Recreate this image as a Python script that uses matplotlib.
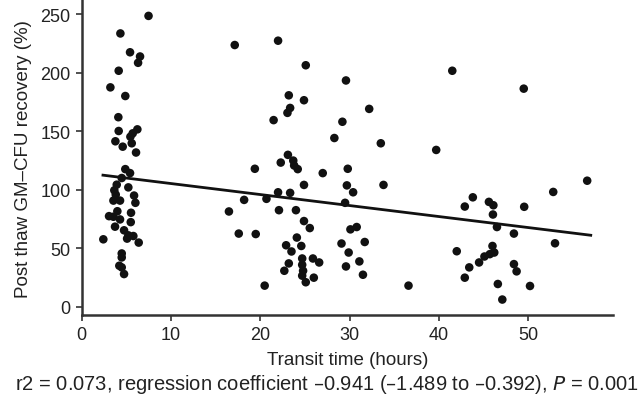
import matplotlib
matplotlib.use("Agg")
import matplotlib.pyplot as plt
import numpy as np

plt.rcParams["font.family"] = ["Liberation Sans", "DejaVu Sans"]

# transit time (hours) and post-thaw recovery (%)
transit = [
    7.5, 4.35, 5.43, 6.55, 6.33, 4.16, 3.23, 4.9, 4.12, 4.16, 6.25, 5.73, 5.47,
    3.79, 4.61, 5.62, 6.1, 4.9, 5.43, 4.5, 3.94, 5.24, 3.67, 3.83, 5.88, 6.03,
    3.57, 4.31, 4.01, 5.54, 3.08, 3.57, 4.31, 5.51, 3.75, 4.76, 5.24, 5.8, 5.1,
    6.4, 2.44, 4.5, 4.5, 4.23, 4.5, 4.76,
    17.15, 22.0, 25.1, 29.6, 23.2, 24.9, 23.35, 23.05, 21.5, 29.2, 28.3, 23.1,
    22.3, 23.7, 23.8, 24.2, 19.4, 27.0, 29.8, 24.9, 29.7, 30.4, 22.0, 23.35,
    18.2, 20.7, 29.5, 16.5, 22.1, 24.0, 24.9, 25.55, 17.6, 19.5, 30.1, 30.8,
    24.1, 22.9, 24.6, 23.5, 29.1, 29.9, 24.7, 25.9, 26.6, 23.2, 24.7, 22.7,
    24.8, 29.6, 24.7, 26.0, 25.1, 20.5, 31.5,
    41.5, 49.5, 32.2, 33.5, 39.7, 33.8, 56.6, 52.8, 43.8, 42.9, 45.6, 46.1,
    49.55, 46.05, 46.5, 48.4, 31.7, 53.0, 42.0, 46.0, 46.2, 45.7, 45.1, 44.5,
    43.4, 31.1, 42.9, 48.4, 48.7, 36.6, 46.6, 50.2, 47.1,
]
recovery = [
    248.7, 233.7, 217.6, 214, 208.6, 201.8, 187.6, 180.2, 162.1, 150.3, 151.7,
    148.3, 145.4, 141.5, 136.9, 139.8, 131.9, 117.7, 114.3, 110.1, 104.4, 102.1,
    99.6, 95.9, 95.1, 88.9, 90.8, 90.8, 81.7, 80.4, 77.5, 77, 74.7, 72.4, 68.5,
    65.4, 61.1, 60.5, 58.3, 54.9, 57.7, 45.6, 42.2, 35.1, 33.7, 28,
    223.8, 227.5, 206.5, 193.5, 180.8, 176.6, 170, 165.8, 159.6, 158.2, 144.3,
    129.9, 123.3, 125, 120.8, 117.7, 118, 114.3, 118, 104.2, 103.8, 97.9, 97.9,
    97.4, 91.4, 92.3, 88.9, 81.5, 82.6, 82.6, 73.3, 67.3, 62.6, 62.2, 66.2,
    68.2, 59.2, 52.6, 52, 47.3, 54.1, 46.4, 41.3, 41.3, 37.9, 37.1, 35.9, 30.8,
    30.8, 34.5, 26.6, 24.9, 21, 18.1, 27.4,
    201.8, 186.5, 169.2, 139.8, 134.1, 104.2, 107.8, 98.2, 93.6, 85.7, 89.7,
    86.8, 85.5, 78.9, 68.2, 62.6, 55.4, 54.3, 47.5, 52, 46.4, 45, 43, 37.9,
    33.7, 38.8, 24.9, 36.5, 30.3, 18.1, 19.5, 17.8, 6.2,
]

# regression line: intercept and slope, drawn over the data range
intercept = 114.8
slope = -0.941
fit_x = [2.4, 57.0]

x_ticks = [0, 10, 20, 30, 40, 50]
y_ticks = [0, 50, 100, 150, 200, 250]

fig = plt.figure(figsize=(6.44, 4.06), dpi=100)
ax = fig.add_axes([0.1266, 0.2217, 0.8254, 0.775])

ax.scatter(transit, recovery, s=38, color="#111111", edgecolors="none", zorder=3)
fx = np.array(fit_x)
ax.plot(fx, intercept + slope * fx, color="#111111", lw=2.0, zorder=2)

ax.set_xlim(0, 59.5)
ax.set_ylim(-7, 262)
ax.set_xticks(x_ticks)
ax.set_yticks(y_ticks)
for s in ["top", "right"]:
    ax.spines[s].set_visible(False)
for s in ["left", "bottom"]:
    ax.spines[s].set_linewidth(1.8)
    ax.spines[s].set_color("#333333")
ax.tick_params(direction="out", length=4, width=1.2, colors="#333333",
               labelsize=13, labelcolor="#222222", pad=4)

ax.set_xlabel("Transit time (hours)", fontsize=13.5, color="#222222", labelpad=6)
ax.set_ylabel("Post thaw GM\u2013CFU recovery (%)", fontsize=13.5, color="#222222", labelpad=6)

fig.text(0.508, 0.052,
         "r2 = 0.073, regression coefficient \u20130.941 (\u20131.489 to \u20130.392), $\\it{P}$ = 0.001",
         ha="center", va="center", fontsize=14.5, color="#222222")

fig.savefig("out.png", dpi=100)
